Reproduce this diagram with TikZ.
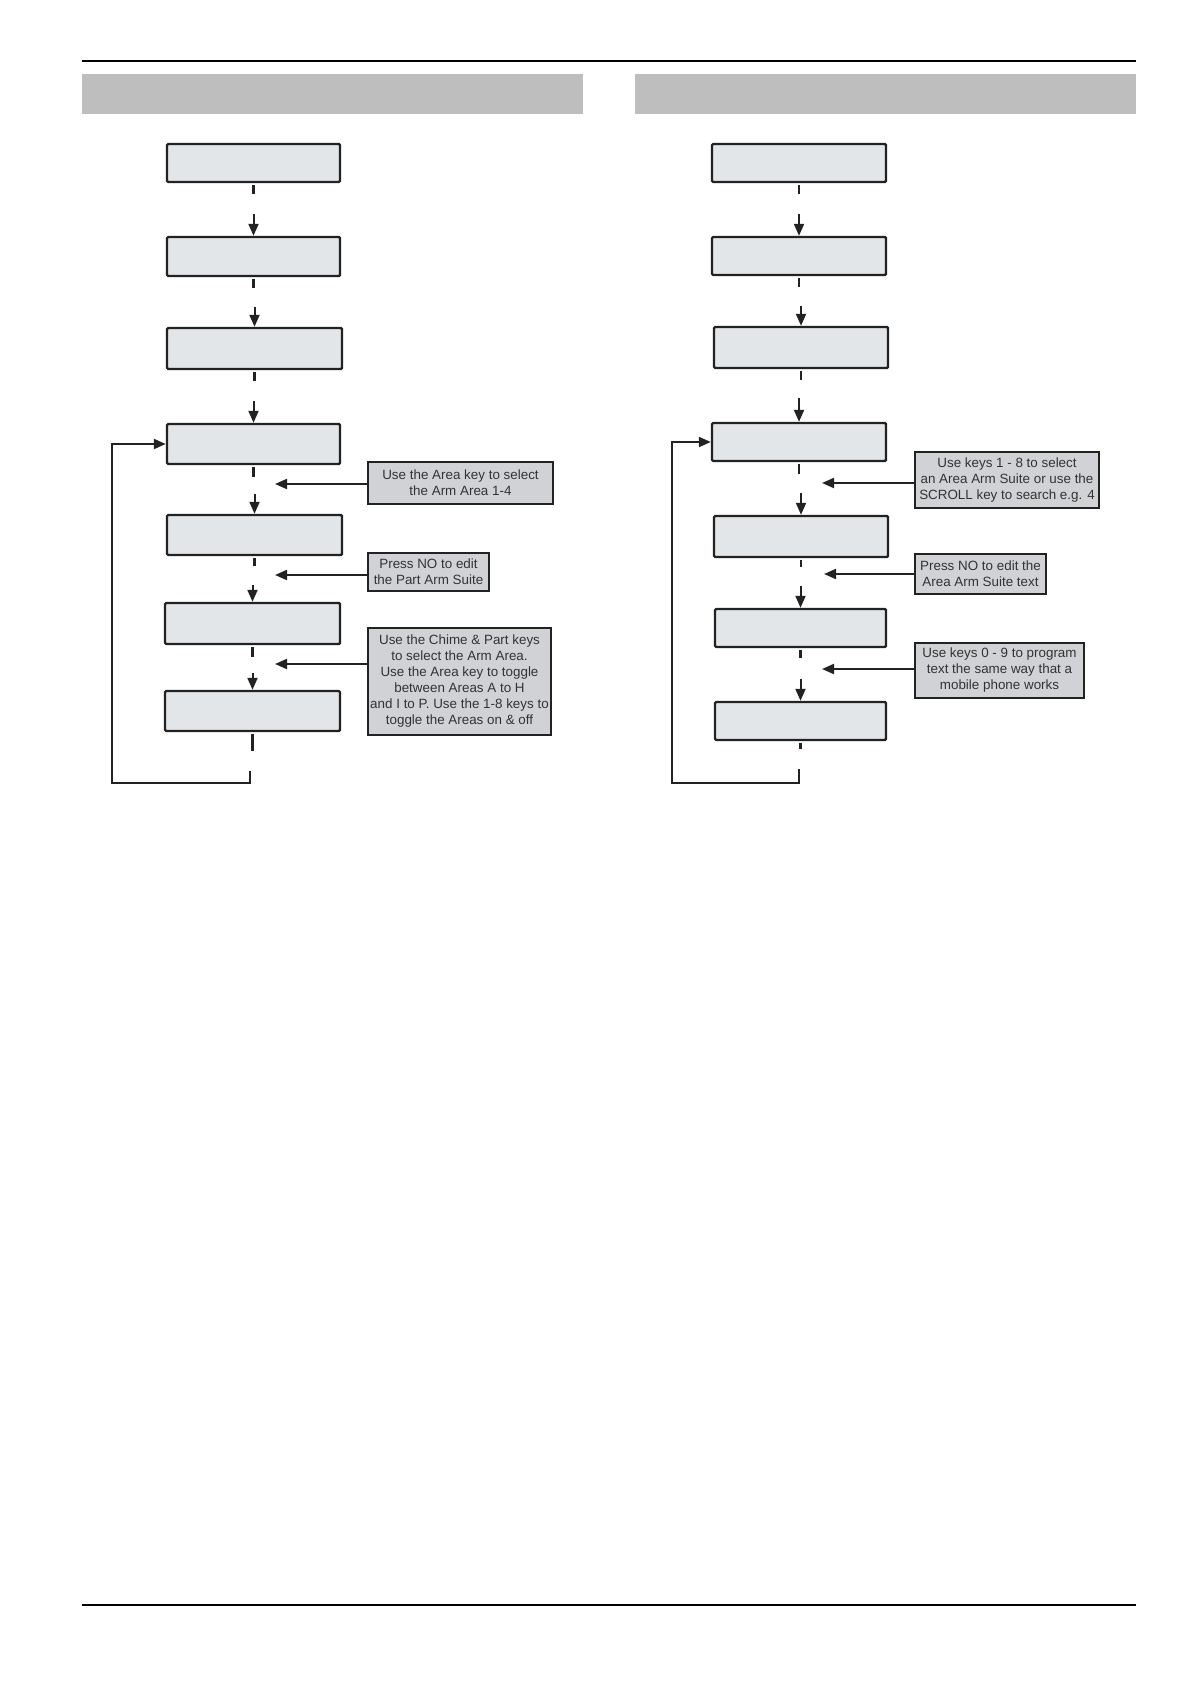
\documentclass[tikz,border=0pt]{standalone}
\usepackage{fontspec}
\setmainfont{Liberation Sans}
\usetikzlibrary{arrows.meta,fit,calc}
\definecolor{boxfill}{HTML}{E3E6E8}
\definecolor{notefill}{HTML}{D0D2D6}
\definecolor{headgray}{HTML}{BEBEBE}
\definecolor{ink}{HTML}{222222}
\definecolor{notetext}{HTML}{333333}
\begin{document}
\begin{tikzpicture}[x=0.5pt,y=-0.5pt,
  screen/.style={draw=ink, line width=1.2pt, fill=boxfill, inner sep=0pt, rounded corners=0.6pt},
  note/.style={draw=ink, line width=1.1pt, fill=notefill, inner sep=0pt, align=center,
    font=\fontsize{6.7}{8}\selectfont, text=notetext},
  conn/.style={draw=ink, line width=1pt},
  stub/.style={draw=ink, line width=1.2pt},
  arr/.style={conn, -{Triangle[length=6pt,width=5pt]}},
  rule/.style={draw=black, line width=0.8pt},
  header/.style={fill=headgray, draw=none, inner sep=0pt}
]
\useasboundingbox (0,0) rectangle (1191,1684);
% page rules
\coordinate (tl) at (82,61); \coordinate (tr) at (1136,61);
\coordinate (bl) at (82,1605); \coordinate (br) at (1136,1605);
\draw[rule] (tl) -- (tr);
\draw[rule] (bl) -- (br);
% headers
\node[header, fit={(82,74)(583,114)}] (hL) {};
\node[header, fit={(635,74)(1136,114)}] (hR) {};

% ---------- left flow ----------
\node[screen, fit={(167,144)(340,182)}] (L1) {};
\node[screen, fit={(167,237)(340,276)}] (L2) {};
\node[screen, fit={(167,328)(342,369)}] (L3) {};
\node[screen, fit={(167,424)(340,464)}] (L4) {};
\node[screen, fit={(167,515)(342,555)}] (L5) {};
\node[screen, fit={(165,603)(340,644)}] (L6) {};
\node[screen, fit={(165,691)(340,731)}] (L7) {};

\draw[stub] ($(L1.south)+(0,2)$) -- ++(0,9);
\draw[arr] ($(L2.north)+(0,-22)$) -- (L2.north);
\draw[stub] ($(L2.south)+(0,2)$) -- ++(0,9);
\draw[arr] ($(L3.north)+(0,-20)$) -- (L3.north);
\draw[stub] ($(L3.south)+(0,2)$) -- ++(0,9);
\draw[arr] ($(L4.north)+(0,-22)$) -- (L4.north);
\draw[stub] ($(L4.south)+(0,2)$) -- ++(0,10);
\draw[arr] ($(L5.north)+(0,-20)$) -- (L5.north);
\draw[stub] ($(L5.south)+(0,2)$) -- ++(0,8);
\draw[arr] ($(L6.north)+(0,-17)$) -- (L6.north);
\draw[stub] ($(L6.south)+(0,2)$) -- ++(0,10);
\draw[arr] ($(L7.north)+(0,-17)$) -- (L7.north);
\draw[stub] ($(L7.south)+(0,2)$) -- ++(0,17);
\coordinate (Lloop) at (250,771);
\coordinate (Lcorner) at (112,783);
\draw[arr] (Lloop) -- (Lloop |- Lcorner) -- (Lcorner) |- (L4.west);

\node[note, minimum width=92.5pt, minimum height=21pt] (A1) at (460.5,483) {Use the Area key to select\\the Arm Area 1-4};
\node[note, minimum width=60.5pt, minimum height=19pt] (A2) at (428.5,572) {Press NO to edit\\the Part Arm Suite};
\node[note, minimum width=91.5pt, minimum height=53.5pt] (A3) at (459.5,681.5) {Use the Chime \& Part keys\\to select the Arm Area.\\Use the Area key to toggle\\between Areas A to H\\and I to P. Use the 1-8 keys to\\toggle the Areas on \& off};
\coordinate (tA1) at (275,484);
\coordinate (tA2) at (275,575);
\coordinate (tA3) at (275,664);
\draw[arr] (A1.west |- tA1) -- (tA1);
\draw[arr] (A2.west |- tA2) -- (tA2);
\draw[arr] (A3.west |- tA3) -- (tA3);

% ---------- right flow ----------
\node[screen, fit={(712,144)(886,182)}] (R1) {};
\node[screen, fit={(712,237)(886,275)}] (R2) {};
\node[screen, fit={(714,327)(888,368)}] (R3) {};
\node[screen, fit={(712,423)(886,461)}] (R4) {};
\node[screen, fit={(714,516)(888,557)}] (R5) {};
\node[screen, fit={(715,609)(886,647)}] (R6) {};
\node[screen, fit={(715,702)(886,740)}] (R7) {};

\draw[stub] ($(R1.south)+(0,2)$) -- ++(0,9);
\draw[arr] ($(R2.north)+(0,-22)$) -- (R2.north);
\draw[stub] ($(R2.south)+(0,2)$) -- ++(0,9);
\draw[arr] ($(R3.north)+(0,-20)$) -- (R3.north);
\draw[stub] ($(R3.south)+(0,2)$) -- ++(0,9);
\draw[arr] ($(R4.north)+(0,-24)$) -- (R4.north);
\draw[stub] ($(R4.south)+(0,2)$) -- ++(0,10);
\draw[arr] ($(R5.north)+(0,-22)$) -- (R5.north);
\draw[stub] ($(R5.south)+(0,2)$) -- ++(0,7);
\draw[arr] ($(R6.north)+(0,-22)$) -- (R6.north);
\draw[stub] ($(R6.south)+(0,2)$) -- ++(0,8);
\draw[arr] ($(R7.north)+(0,-22)$) -- (R7.north);
\draw[stub] ($(R7.south)+(0,2)$) -- ++(0,6);
\coordinate (Rloop) at (799,769);
\coordinate (Rcorner) at (672,783);
\draw[arr] (Rloop) -- (Rloop |- Rcorner) -- (Rcorner) |- (R4.west);

\node[note, minimum width=92pt, minimum height=28pt] (B1) at (1007,480) {Use keys 1 - 8 to select\\an Area Arm Suite or use the\\SCROLL key to search e.g. 4};
\node[note, minimum width=65.5pt, minimum height=20pt] (B2) at (980.5,574) {Press NO to edit the\\Area Arm Suite text};
\node[note, minimum width=84.5pt, minimum height=27.5pt] (B3) at (999.5,670.5) {Use keys 0 - 9 to program\\text the same way that a\\mobile phone works};
\coordinate (tB1) at (822,483);
\coordinate (tB2) at (824,574);
\coordinate (tB3) at (822,669);
\draw[arr] (B1.west |- tB1) -- (tB1);
\draw[arr] (B2.west |- tB2) -- (tB2);
\draw[arr] (B3.west |- tB3) -- (tB3);
\end{tikzpicture}
\end{document}
